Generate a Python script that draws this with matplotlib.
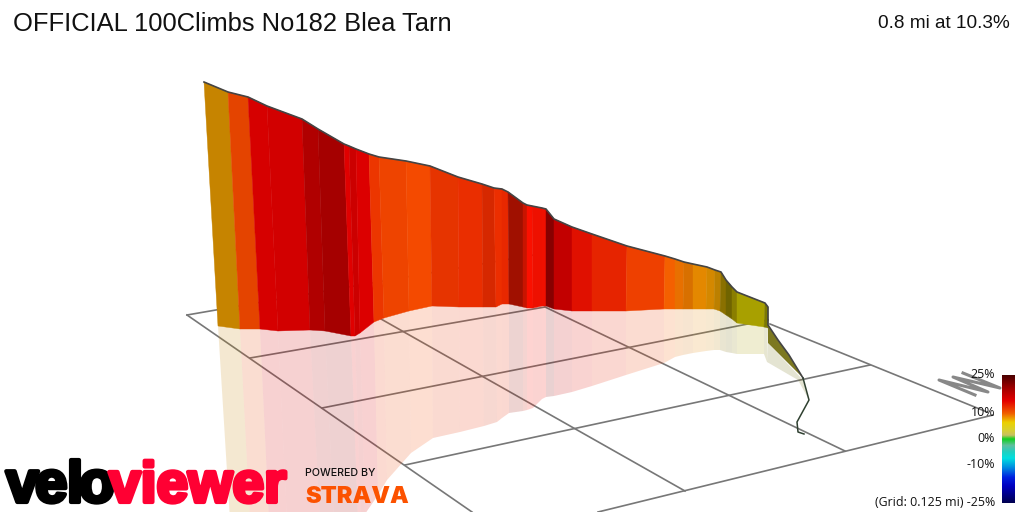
import matplotlib
matplotlib.use('Agg')
import numpy as np
import matplotlib.pyplot as plt
import matplotlib.patheffects as pe
from matplotlib.colors import LinearSegmentedColormap

title = 'OFFICIAL 100Climbs No182 Blea Tarn'
summary = '0.8 mi at 10.3%'

# wall of the climb in pixels
top_x = [204, 228, 248, 267, 302, 318, 344, 349, 356, 369, 379, 406, 430, 458, 482, 494, 502, 508,
         523, 527, 532, 542, 546, 554, 572, 592, 627, 665, 675, 684, 693, 707, 715, 721, 726, 732, 737, 765, 768]
top_y = [82, 92, 97, 106, 119, 129, 144, 146, 149, 154, 157, 161, 166, 177, 184, 188, 189, 192,
         203, 205, 206, 208, 209, 219, 227, 234, 246, 256, 259, 262, 264, 267, 270, 272, 280, 287, 292, 303, 307]
base_x = [218, 240, 260, 278, 310, 325, 351, 355, 360, 374, 384, 409, 432, 459, 483, 496, 502, 509,
          523, 527, 533, 542, 546, 554, 572, 592, 626, 664, 675, 683, 693, 706, 714, 720, 726, 732, 737, 764, 768]
base_y = [326, 329, 329, 331, 330, 331, 336, 336, 333, 322, 318, 311, 306, 307, 307, 307, 304, 304,
          307, 308, 308, 306, 306, 309, 311, 311, 311, 309, 309, 309, 309, 309, 309, 311, 315, 319, 323, 327, 328]
# lower edge of the pale reflection
refl_x = [230, 250, 269, 287, 320, 334, 358, 361, 365, 378, 387, 411, 433, 460, 484, 497, 502, 509,
          523, 527, 533, 542, 546, 554, 572, 592, 626, 664, 675, 683, 693, 706, 714, 720, 726, 732, 737, 764, 767]
refl_y = [520, 520, 520, 520, 520, 520, 520, 520, 514, 495, 480, 453, 438, 432, 426, 422, 418, 413,
          411, 410, 408, 399, 397, 396, 392, 386, 375, 363, 357, 355, 353, 351, 350, 350, 352, 353, 354, 354, 362]
seg_colors = ['#c68400', '#e44400', '#d60000', '#d20000', '#b00000', '#a50000', '#e00000', '#cc0000',
              '#dc0000', '#ec3600', '#ee4400', '#f44a00', '#e63400', '#ea2e00', '#d62800', '#ec2e00',
              '#e82800', '#a01000', '#c81400', '#fa1000', '#ee1000', '#f01000', '#880000', '#c20000',
              '#e01000', '#e62400', '#ee4000', '#f46000', '#e87000', '#d87000', '#e48800', '#d48800',
              '#bc8000', '#8a7000', '#706400', '#8a7e00', '#a8a000', '#7c7800']

tail_top_x = [768, 778, 789, 803]
tail_top_y = [325, 340, 355, 378]
tail_low_x = [803, 787, 768]
tail_low_y = [378, 362, 343]
tail_refl_x = [768, 803, 809, 798, 767]
tail_refl_y = [343, 380, 400, 380, 362]
foot_x = [803, 809, 797, 798, 804]
foot_y = [378, 400, 422, 432, 434]

# ground grid
grid_lines = [
    ([187, 472], [315, 512]),
    ([381, 685], [319, 491]),
    ([545, 845], [307, 451]),
    ([770, 987], [324, 412]),
    ([187, 545], [315, 253]),
    ([250, 545], [358, 307]),
    ([322, 768], [408, 320]),
    ([405, 870], [465, 365]),
    ([598, 993], [512, 415]),
]
scribble_x = [963, 1000, 953, 988, 939, 975]
scribble_y = [373, 388, 377, 392, 380, 395]

bar_stops = [0, .1, .2, .3, .37, .43, .47, .5, .55, .6, .65, .72, .8, .87, 1]
bar_colors = ['#4a0000', '#a00000', '#e40000', '#f06000', '#ecd000', '#d8d030', '#c8c060', '#10d020',
              '#60c0a0', '#20d0c0', '#00e0e0', '#0090e0', '#0020e0', '#0000c0', '#000050']
bar_labels = ['25%', '10%', '0%', '-10%', '(Grid: 0.125 mi) -25%']
bar_label_y = [375, 413, 439, 464, 503]

velo_letters = ['v', 'e', 'l', 'o']
velo_x = [6, 35, 67, 79]

fig = plt.figure(figsize=(10.24, 5.12), dpi=100)
ax = fig.add_axes([0, 0, 1, 1])
ax.set_xlim(0, 1024)
ax.set_ylim(512, 0)
ax.axis('off')

for xs, ys in grid_lines:
    ax.plot(xs, ys, color='#777777', lw=1.2, zorder=1)

for i, col in enumerate(seg_colors):
    ax.fill([base_x[i], base_x[i + 1], refl_x[i + 1], refl_x[i]],
            [base_y[i], base_y[i + 1], refl_y[i + 1], refl_y[i]],
            color=col, alpha=0.18, lw=0, zorder=2)
    ax.fill([top_x[i], top_x[i + 1], base_x[i + 1], base_x[i]],
            [top_y[i], top_y[i + 1], base_y[i + 1], base_y[i]],
            facecolor=col, edgecolor=col, lw=0.3, zorder=3)

ax.fill(tail_refl_x, tail_refl_y, color='#7c7820', alpha=0.2, lw=0, zorder=2)
ax.fill(tail_top_x + tail_low_x, tail_top_y + tail_low_y, color='#7c7820', lw=0, zorder=3)
ax.plot(top_x + tail_top_x, top_y + tail_top_y, color='#444444', lw=1.2, zorder=4)
ax.plot(foot_x, foot_y, color='#2f4030', lw=1.1, zorder=4)

ax.plot(scribble_x, scribble_y, color='#888888', lw=2.2, zorder=1)

cmap = LinearSegmentedColormap.from_list('grade', list(zip(bar_stops, bar_colors)))
ax.imshow(np.linspace(0, 1, 256)[:, None], cmap=cmap, extent=(1002, 1015, 503, 375), aspect='auto', zorder=5)
ax.set_xlim(0, 1024)
ax.set_ylim(512, 0)
for label, y in zip(bar_labels, bar_label_y):
    ax.text(995, y, label, ha='right', va='center', fontsize=8.9, family='Open Sans', color='#111111', zorder=6)

ax.text(13, 24, title, ha='left', va='center', fontsize=18.4, family='Liberation Sans', color='#111111')
ax.text(1010, 23, summary, ha='right', va='center', fontsize=13.7, family='Liberation Sans', color='#111111')

# logo block, the letters of velo sit tighter than the font allows
heavy = [pe.withStroke(linewidth=3, foreground='#000000')]
for letter, x in zip(velo_letters, velo_x):
    ax.text(x, 502, letter, ha='left', va='baseline', fontsize=42, family='Liberation Sans', weight='bold',
            color='#000000', path_effects=heavy, zorder=7)
heavy_red = [pe.withStroke(linewidth=3, foreground='#ff0033')]
ax.text(109, 502, 'viewer', ha='left', va='baseline', fontsize=41, family='Liberation Sans', weight='bold',
        color='#ff0033', path_effects=heavy_red, zorder=8)
ax.text(305, 476, 'POWERED BY', ha='left', va='baseline', fontsize=7.7, family='Inter', weight='medium',
        color='#111111', zorder=7)
ax.text(305, 503, 'STRAVA', ha='left', va='baseline', fontsize=17, family='Inter', weight='black',
        color='#fc5200', zorder=7)

fig.savefig('out.png', dpi=100)
